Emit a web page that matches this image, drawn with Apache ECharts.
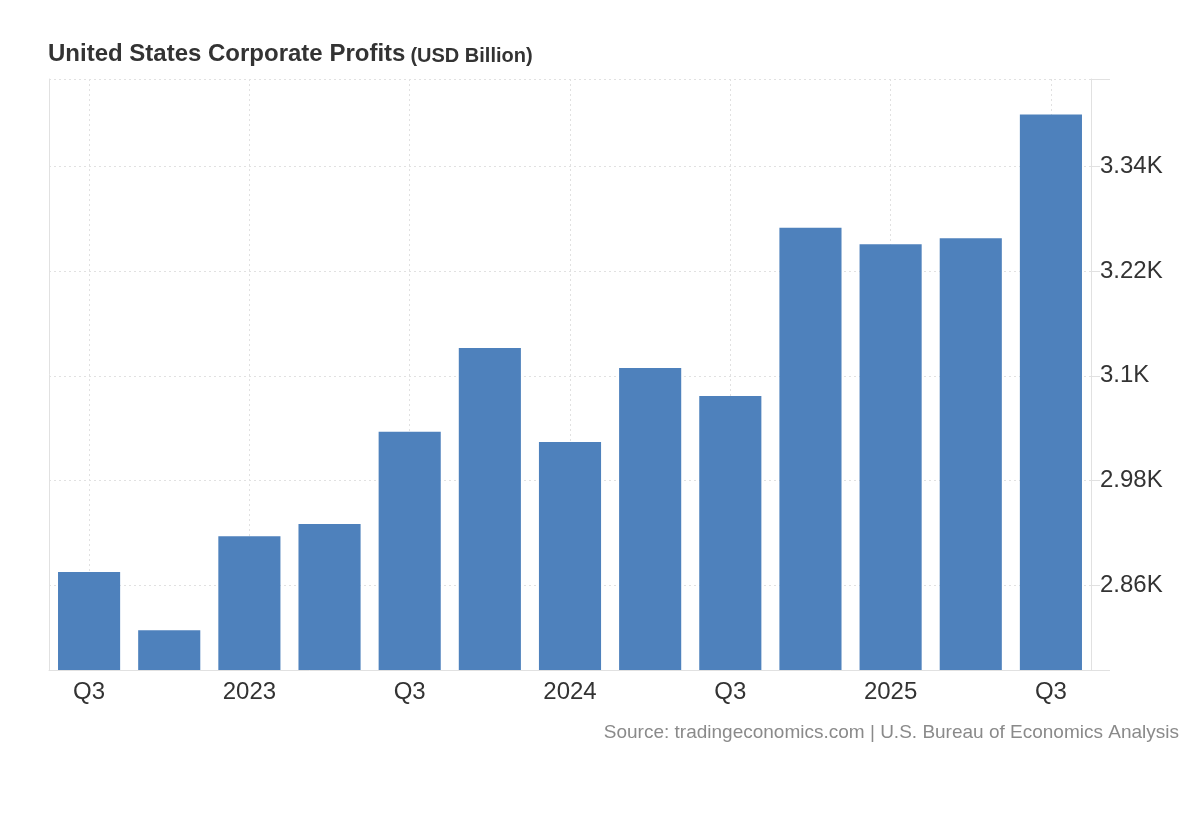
<!DOCTYPE html>
<html>
<head>
<meta charset="utf-8">
<script src="https://cdn.jsdelivr.net/npm/echarts@6/dist/echarts.min.js"></script>
<style>
html,body{margin:0;padding:0;background:#fff;}
#chart{width:1200px;height:820px;}
</style>
</head>
<body>
<div id="chart"></div>
<script>
// Quarterly periods
const categories = ['2022 Q3','2022 Q4','2023 Q1','2023 Q2','2023 Q3','2023 Q4','2024 Q1','2024 Q2','2024 Q3','2024 Q4','2025 Q1','2025 Q2','2025 Q3'];
// Axis labels shown for each category (only every other one is drawn)
const xTickLabels = ['Q3','Q4','2023','Q2','Q3','Q4','2024','Q2','Q3','Q4','2025','Q2','Q3'];
// Corporate profits, USD billion
const profits = [2875, 2808, 2916, 2930, 3036, 3132, 3024, 3109, 3077, 3270, 3251, 3258, 3400];
// Y axis tick values (USD billion)
const yTicks = [2860, 2980, 3100, 3220, 3340];
const yMin = 2762.5;
const yMax = 3440.6;

const chart = echarts.init(document.getElementById('chart'), null, {renderer: 'canvas'});
const font = '"Liberation Sans", Arial, sans-serif';
const gridColor = '#e1e1e1';

chart.setOption({
  backgroundColor: '#ffffff',
  animation: false,
  title: {
    left: 43,
    top: 37,
    text: '{a|United States Corporate Profits} {b|(USD Billion)}',
    textStyle: {
      rich: {
        a: {fontFamily: font, fontSize: 24, fontWeight: 'bold', color: '#333333', verticalAlign: 'bottom'},
        b: {fontFamily: font, fontSize: 20, fontWeight: 'bold', color: '#333333', verticalAlign: 'bottom'}
      }
    }
  },
  grid: {left: 49, right: 109, top: 79, bottom: 150, containLabel: false},
  xAxis: {
    type: 'category',
    data: categories,
    boundaryGap: true,
    axisLine: {show: true, lineStyle: {color: gridColor, width: 1}},
    axisTick: {show: false},
    axisLabel: {
      interval: 1,
      margin: 10,
      color: '#333333',
      fontFamily: font,
      fontSize: 24,
      formatter: (v, i) => xTickLabels[i]
    },
    splitLine: {
      show: true,
      interval: 1,
      alignWithLabel: true,
      lineStyle: {color: gridColor, type: [2, 3], width: 1}
    }
  },
  yAxis: [{
    type: 'value',
    position: 'right',
    min: yMin,
    max: yMax,
    axisLine: {show: true, lineStyle: {color: gridColor, width: 1}},
    axisTick: {show: true, length: 9, customValues: yTicks.concat([yMax]), lineStyle: {color: gridColor}},
    axisLabel: {
      customValues: yTicks,
      margin: 9,
      color: '#333333',
      fontFamily: font,
      fontSize: 24,
      formatter: v => (v / 1000) + 'K'
    },
    splitLine: {show: true, lineStyle: {color: gridColor, type: [2, 3], width: 1}}
  }, {
    type: 'value',
    position: 'left',
    min: yMin,
    max: yMax,
    axisLine: {show: true, lineStyle: {color: gridColor, width: 1}},
    axisTick: {show: false},
    axisLabel: {show: false},
    splitLine: {show: false}
  }],
  series: [{
    type: 'bar',
    data: profits,
    yAxisIndex: 0,
    barCategoryGap: '22.5%',
    itemStyle: {color: '#4e81bc'}
  }],
  graphic: [
    {type: 'line', shape: {x1: 1091, y1: 79.5, x2: 1110, y2: 79.5}, style: {stroke: gridColor, lineWidth: 1}},
    {type: 'line', shape: {x1: 1091, y1: 670.5, x2: 1110, y2: 670.5}, style: {stroke: gridColor, lineWidth: 1}},
    {type: 'text', right: 21, top: 723, style: {text: 'Source: tradingeconomics.com | U.S. Bureau of Economics Analysis', font: '19px ' + font, fill: '#8a8a8a'}}
  ]
});
</script>
</body>
</html>
